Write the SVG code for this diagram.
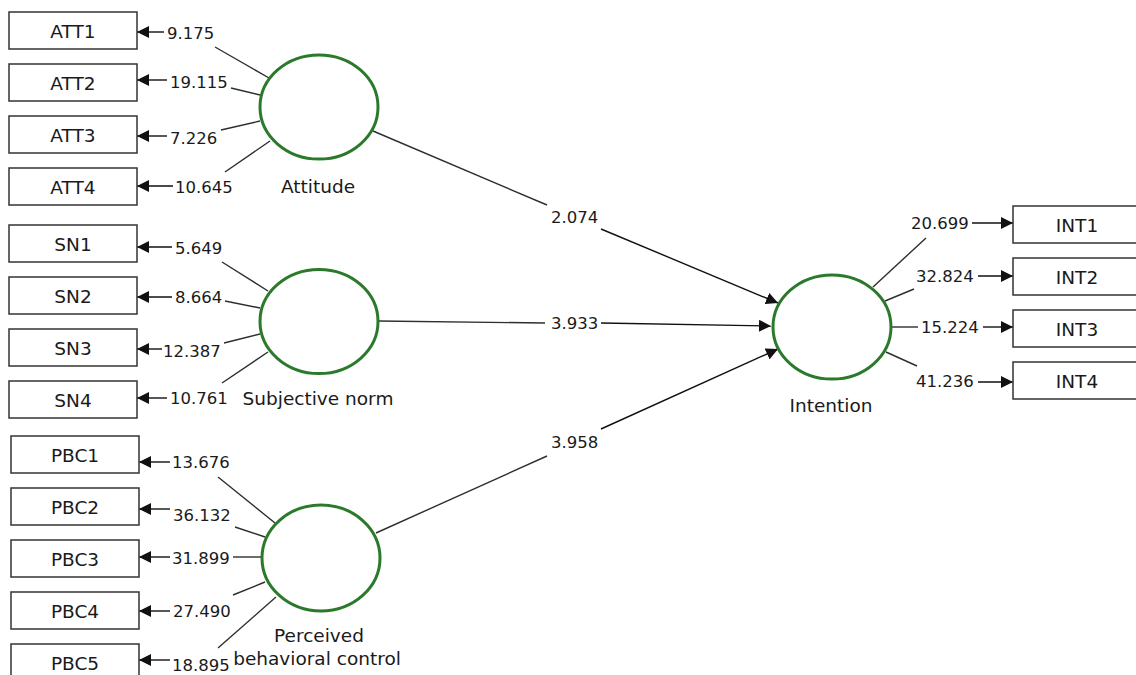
<svg xmlns="http://www.w3.org/2000/svg" width="1136" height="675" viewBox="0 0 1136 675">
<style>
.box{fill:#fff;stroke:#333;stroke-width:1.5}
.lv{fill:#fff;stroke:#2b7a2b;stroke-width:3}
.bl{font-family:"DejaVu Sans",Verdana,sans-serif;font-size:18.5px;fill:#1a1a1a;text-anchor:middle}
.val{font-family:"DejaVu Sans",Verdana,sans-serif;font-size:16.5px;fill:#1a1a1a}
.ln{stroke:#2e2e2e;stroke-width:1.4;fill:none}
.ar{stroke:#111;stroke-width:1.4;fill:none;marker-end:url(#ah)}
</style>
<defs>
<marker id="ah" markerUnits="userSpaceOnUse" viewBox="0 0 12 12" refX="12" refY="6" markerWidth="12" markerHeight="12" orient="auto">
<path d="M0,0 L12,6 L0,12 z" fill="#111"/>
</marker>
</defs>
<rect width="1136" height="675" fill="#fff"/>

<g id="connectors">
<line class="ln" x1="373" y1="131" x2="547" y2="205"/>
<line class="ar" x1="601" y1="229" x2="778" y2="303"/>
<line class="ln" x1="378" y1="321" x2="545" y2="323"/>
<line class="ar" x1="601" y1="323" x2="771" y2="326"/>
<line class="ln" x1="376" y1="533" x2="547" y2="456"/>
<line class="ar" x1="601" y1="429" x2="778" y2="349"/>
<text class="val" x="551" y="223">2.074</text>
<text class="val" x="551" y="329">3.933</text>
<text class="val" x="551" y="448">3.958</text>

<line class="ln" x1="215" y1="47" x2="269" y2="78"/>
<line class="ln" x1="231" y1="88" x2="260" y2="95"/>
<line class="ln" x1="221" y1="130" x2="260" y2="121"/>
<line class="ln" x1="225" y1="172" x2="270" y2="141"/>
<line class="ar" x1="164" y1="32" x2="137" y2="32"/>
<line class="ar" x1="167" y1="80" x2="137" y2="80"/>
<line class="ar" x1="167" y1="136" x2="137" y2="136"/>
<line class="ar" x1="173" y1="186" x2="137" y2="186"/>
<text class="val" x="167" y="39">9.175</text>
<text class="val" x="170" y="88">19.115</text>
<text class="val" x="170" y="144">7.226</text>
<text class="val" x="175" y="193">10.645</text>

<line class="ln" x1="222" y1="262" x2="268" y2="291"/>
<line class="ln" x1="225" y1="301" x2="260" y2="308"/>
<line class="ln" x1="224" y1="343" x2="260" y2="334"/>
<line class="ln" x1="222" y1="383" x2="268" y2="352"/>
<line class="ar" x1="172" y1="247" x2="137" y2="247"/>
<line class="ar" x1="172" y1="297" x2="137" y2="297"/>
<line class="ar" x1="162" y1="349" x2="137" y2="349"/>
<line class="ar" x1="167" y1="398" x2="137" y2="398"/>
<text class="val" x="175" y="254">5.649</text>
<text class="val" x="175" y="303">8.664</text>
<text class="val" x="163" y="357">12.387</text>
<text class="val" x="170" y="404">10.761</text>

<line class="ln" x1="218" y1="477" x2="275" y2="523"/>
<line class="ln" x1="235" y1="527" x2="265" y2="537"/>
<line class="ln" x1="233" y1="557" x2="261" y2="557"/>
<line class="ln" x1="233" y1="595" x2="265" y2="582"/>
<line class="ln" x1="218" y1="648" x2="276" y2="597"/>
<line class="ar" x1="170" y1="462" x2="139" y2="462"/>
<line class="ar" x1="170" y1="509" x2="139" y2="509"/>
<line class="ar" x1="170" y1="557" x2="139" y2="557"/>
<line class="ar" x1="170" y1="611" x2="139" y2="611"/>
<line class="ar" x1="170" y1="660" x2="139" y2="660"/>
<text class="val" x="172" y="468">13.676</text>
<text class="val" x="173" y="521">36.132</text>
<text class="val" x="172" y="564">31.899</text>
<text class="val" x="173" y="617">27.490</text>
<text class="val" x="172" y="671">18.895</text>

<line class="ln" x1="873" y1="287" x2="926" y2="238"/>
<line class="ln" x1="885" y1="301" x2="914" y2="289"/>
<line class="ln" x1="892" y1="327" x2="918" y2="327"/>
<line class="ln" x1="886" y1="352" x2="917" y2="366"/>
<line class="ar" x1="972" y1="223" x2="1013" y2="223"/>
<line class="ar" x1="978" y1="276" x2="1013" y2="276"/>
<line class="ar" x1="983" y1="327" x2="1013" y2="327"/>
<line class="ar" x1="978" y1="382" x2="1013" y2="382"/>
<text class="val" x="911" y="229">20.699</text>
<text class="val" x="916" y="282">32.824</text>
<text class="val" x="921" y="333">15.224</text>
<text class="val" x="916" y="387">41.236</text>
</g>

<g id="ATT1"><rect class="box" x="9" y="12" width="128" height="37"/><text class="bl" x="73" y="38">ATT1</text></g>
<g id="ATT2"><rect class="box" x="9" y="64" width="128" height="37"/><text class="bl" x="73" y="90">ATT2</text></g>
<g id="ATT3"><rect class="box" x="9" y="116" width="128" height="37"/><text class="bl" x="73" y="142">ATT3</text></g>
<g id="ATT4"><rect class="box" x="9" y="168" width="128" height="37"/><text class="bl" x="73" y="194">ATT4</text></g>
<g id="SN1"><rect class="box" x="9" y="225" width="128" height="37"/><text class="bl" x="73" y="251">SN1</text></g>
<g id="SN2"><rect class="box" x="9" y="277" width="128" height="37"/><text class="bl" x="73" y="303">SN2</text></g>
<g id="SN3"><rect class="box" x="9" y="329" width="128" height="37"/><text class="bl" x="73" y="355">SN3</text></g>
<g id="SN4"><rect class="box" x="9" y="381" width="128" height="37"/><text class="bl" x="73" y="407">SN4</text></g>
<g id="PBC1"><rect class="box" x="11" y="436" width="128" height="37"/><text class="bl" x="75" y="462">PBC1</text></g>
<g id="PBC2"><rect class="box" x="11" y="488" width="128" height="37"/><text class="bl" x="75" y="514">PBC2</text></g>
<g id="PBC3"><rect class="box" x="11" y="540" width="128" height="37"/><text class="bl" x="75" y="566">PBC3</text></g>
<g id="PBC4"><rect class="box" x="11" y="592" width="128" height="37"/><text class="bl" x="75" y="618">PBC4</text></g>
<g id="PBC5"><rect class="box" x="11" y="644" width="128" height="37"/><text class="bl" x="75" y="670">PBC5</text></g>
<g id="INT1"><rect class="box" x="1013" y="206" width="128" height="37"/><text class="bl" x="1077" y="232">INT1</text></g>
<g id="INT2"><rect class="box" x="1013" y="258" width="128" height="37"/><text class="bl" x="1077" y="284">INT2</text></g>
<g id="INT3"><rect class="box" x="1013" y="310" width="128" height="37"/><text class="bl" x="1077" y="336">INT3</text></g>
<g id="INT4"><rect class="box" x="1013" y="362" width="128" height="37"/><text class="bl" x="1077" y="388">INT4</text></g>

<g id="Attitude"><ellipse class="lv" cx="319" cy="107" rx="59" ry="52"/><text class="bl" x="318" y="193">Attitude</text></g>
<g id="SubjectiveNorm"><ellipse class="lv" cx="319" cy="321.5" rx="59" ry="52"/><text class="bl" x="318" y="405">Subjective norm</text></g>
<g id="PBC"><ellipse class="lv" cx="321" cy="558" rx="59" ry="53"/><text class="bl" x="319" y="642">Perceived</text><text class="bl" x="317" y="665">behavioral control</text></g>
<g id="Intention"><ellipse class="lv" cx="832" cy="327" rx="59" ry="52"/><text class="bl" x="831" y="412">Intention</text></g>
</svg>
